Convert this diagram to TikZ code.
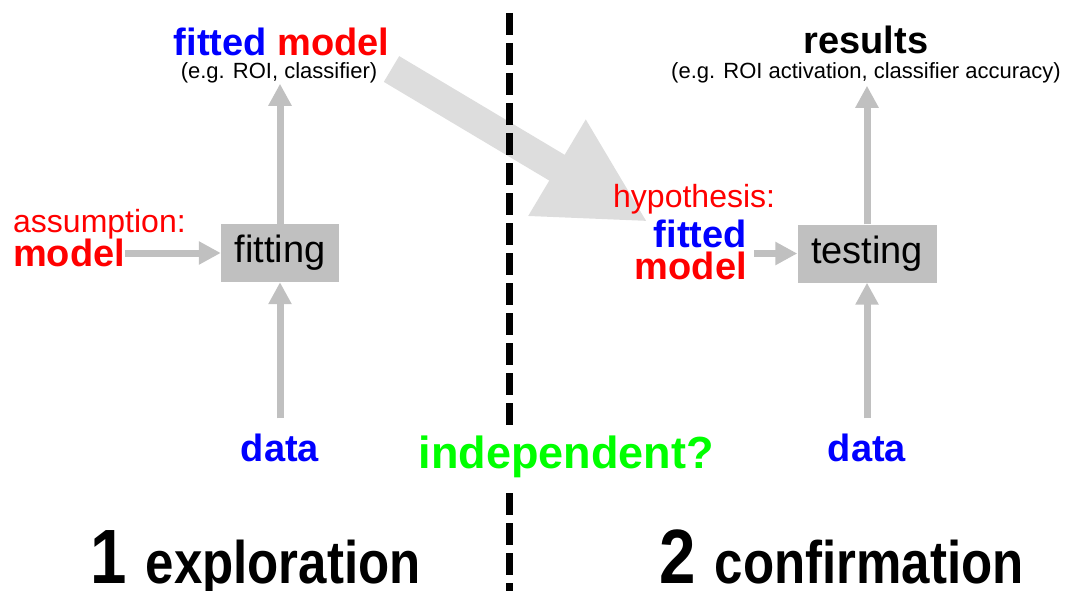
\documentclass[tikz,border=0pt]{standalone}
\usepackage{fontspec}
\setmainfont{Liberation Sans}
\newfontfamily\narrowfont[FakeStretch=0.85]{Liberation Sans}
\usetikzlibrary{arrows.meta}
\definecolor{fitblue}{RGB}{0,0,255}
\definecolor{modelred}{RGB}{255,0,0}
\definecolor{indepgreen}{RGB}{0,255,0}
\definecolor{boxgray}{RGB}{192,192,192}
\definecolor{arrowgray}{RGB}{192,192,192}
\definecolor{handgray}{RGB}{221,221,221}
\tikzset{
  every node/.style={inner sep=0pt},
  bigword/.style={font=\bfseries\fontsize{38}{31.5}\selectfont},
  smallword/.style={font=\fontsize{32}{32}\selectfont, text=modelred},
  subtext/.style={font=\fontsize{22}{22}\selectfont},
  stepbox/.style={fill=boxgray, minimum height=58pt, font=\fontsize{38}{38}\selectfont},
  grayarrow/.style={draw=arrowgray, line width=7pt, -{Triangle[length=22pt,width=22pt]}},
  handarrow/.style={draw=handgray, line width=30pt, -{Triangle[length=106pt,width=104pt]}},
  divider/.style={draw=black, line width=7pt, dash pattern=on 22pt off 8pt},
  phase/.style={font=\narrowfont\bfseries\fontsize{60}{60}\selectfont},
}
\begin{document}
\begin{tikzpicture}[x=1pt,y=-1pt]
\useasboundingbox (0,0) rectangle (1068,591);
% hand-over from exploration to confirmation
\coordinate (handfrom) at (391.5,69);
\coordinate (handto) at (648,222);
\draw[handarrow] (handfrom) -- (handto);
% divider
\coordinate (divtop) at (509,13);
\coordinate (divbot) at (509,591);
\draw[divider] (divtop) -- (divbot);

% 1 exploration
\node[bigword, anchor=base] (fitmodel) at (281.5,55.5) {\textcolor{fitblue}{fitted} \textcolor{modelred}{model}};
\node[subtext, anchor=base] (fitsub) at (279,79) {(e.g. ROI, classifier)};
\node[smallword, anchor=base west] (assume) at (13,232) {assumption:};
\node[bigword, text=modelred, anchor=base west] (model) at (13,266) {model};
\node[stepbox, minimum width=118pt] (fit) at (280,253) {fitting};
\node[bigword, text=fitblue, anchor=base] (data) at (280,461) {data};
\draw[grayarrow] (model.east |- fit.west) -- (fit.west);
\draw[grayarrow] (fit.north) -- (fit.north |- fitsub.south);
\draw[grayarrow, shorten <=15pt] (data.north) -- (fit.south);

% 2 confirmation
\node[bigword, text=black, anchor=base] (results) at (866,54) {results};
\node[subtext, anchor=base] (ressub) at (866,79) {(e.g. ROI activation, classifier accuracy)};
\node[smallword, anchor=base west] (hypo) at (613,207) {hypothesis:};
\node[bigword, align=right, anchor=east] (hypmodel) at (747,250) {\textcolor{fitblue}{fitted}\\\textcolor{modelred}{model}};
\node[stepbox, minimum width=139pt] (test) at (867,253.5) {testing};
\node[bigword, text=fitblue, anchor=base] (data2) at (867,461) {data};
\draw[grayarrow, shorten <=7pt] (hypmodel.east |- test.west) -- (test.west);
\draw[grayarrow, shorten >=2pt] (test.north) -- (test.north |- ressub.south);
\draw[grayarrow, shorten <=15pt] (data2.north) -- (test.south);

% independent?
\node[font=\bfseries\fontsize{45}{45}\selectfont, text=indepgreen, fill=white, inner ysep=8pt, anchor=base] (indep) at (566,468) {independent?};

% phase titles
\node[phase, anchor=base west] (explore) at (90,583) {{\fontsize{77}{77}\selectfont 1} \hspace{5pt}exploration};
\node[phase, anchor=base west] (confirm) at (659,583) {{\fontsize{77}{77}\selectfont 2} \hspace{5pt}confirmation};
\end{tikzpicture}
\end{document}
